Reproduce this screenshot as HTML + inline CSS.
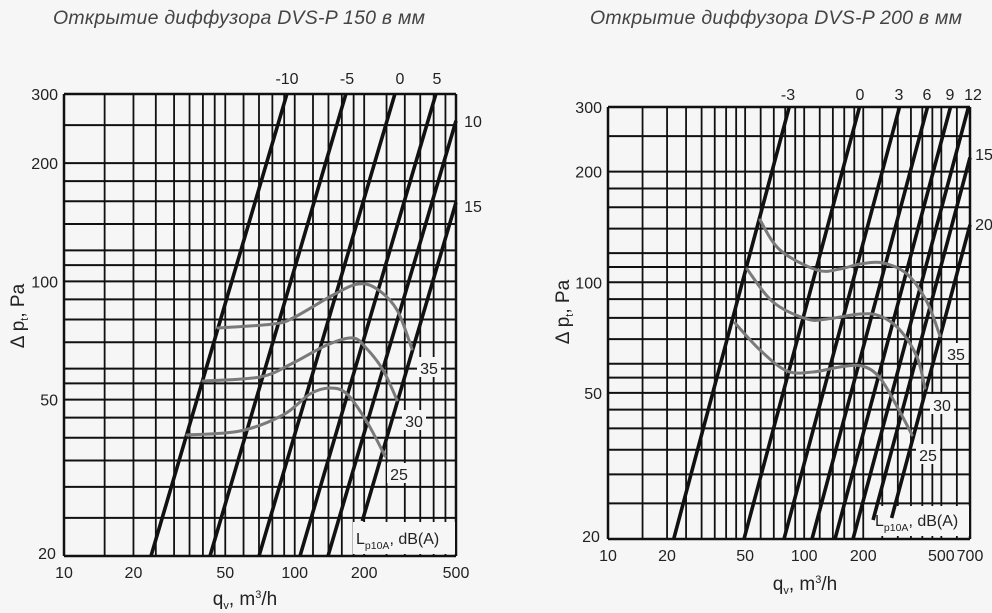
<!DOCTYPE html>
<html><head><meta charset="utf-8"><style>
html,body{margin:0;padding:0;background:#f6f6f6;}
svg{display:block;}
text{font-family:"Liberation Sans",Arial,sans-serif;fill:#222;}
.t{font-style:italic;fill:#444;font-size:19.5px;}
</style></head><body>
<svg id="s" width="992" height="613" viewBox="0 0 992 613" xmlns="http://www.w3.org/2000/svg">
<rect width="992" height="613" fill="#f6f6f6"/>
<text class="t" x="239" y="24" text-anchor="middle" textLength="372">Открытие диффузора DVS-P 150 в мм</text>
<text class="t" x="776" y="24" text-anchor="middle" textLength="372">Открытие диффузора DVS-P 200 в мм</text>
</svg>
<script>
var S=document.getElementById('s'),NS='http://www.w3.org/2000/svg';
function el(n,a,t){var e=document.createElementNS(NS,n);for(var k in a)e.setAttribute(k,a[k]);if(t!==undefined)e.textContent=t;S.appendChild(e);return e;}
function L(x1,y1,x2,y2,w,c){el('line',{x1:x1,y1:y1,x2:x2,y2:y2,stroke:c||'#111','stroke-width':w});}
function T(x,y,s,sz,anc){return el('text',{x:x,y:y,'font-size':sz||16,'text-anchor':anc||'middle'},s);}
function smooth(p){var d='M'+p[0][0]+','+p[0][1];for(var i=0;i<p.length-1;i++){var p0=p[i-1]||p[i],p1=p[i],p2=p[i+1],p3=p[i+2]||p2;
 var c1x=p1[0]+(p2[0]-p0[0])/6,c1y=p1[1]+(p2[1]-p0[1])/6,c2x=p2[0]-(p3[0]-p1[0])/6,c2y=p2[1]-(p3[1]-p1[1])/6;
 d+=' C'+c1x+','+c1y+' '+c2x+','+c2y+' '+p2[0]+','+p2[1];}return d;}
var hv=[300,250,200,180,160,140,120,110,100,90,80,70,60,55,50,45,40,35,30,25,20];
function chart(c){
 var lg=Math.log10;
 function X(q){return c.x0+(c.x1-c.x0)*lg(q/10)/lg(c.qmax/10);}
 function Y(v){return c.y1-(c.y1-c.y0)*lg(v/20)/lg(15);}
 c.vv.forEach(function(q){var x=X(q);L(x,c.y0,x,c.y1,1.8);});
 hv.forEach(function(v){var y=Y(v);L(c.x0,y,c.x1,y,2);});
 L(c.x0,c.y0,c.x0,c.y1,2.5);L(c.x1,c.y0,c.x1,c.y1,2.5);
 el('rect',{x:c.lg[0],y:c.lg[1],width:c.lg[2],height:c.lg[3],fill:'#f6f6f6'});
 var lt=el('text',{x:c.lg[0]+3,y:c.lg[1]+c.lg[3]-10,'font-size':16,'text-anchor':'start'});
 lt.innerHTML='L<tspan font-size="10.5" dy="5">p10A</tspan><tspan dy="-5">, dB(A)</tspan>';
 L(c.x0,c.y1,c.x1,c.y1,2.5);L(c.x0,c.y0,c.x1,c.y0,2.5);
 var k=c.k;
 c.diag.forEach(function(d){var xb=d[0],ys=d[1]||c.y1;var xs=xb+(c.y1-ys)/k;var xe=xb+(c.y1-c.y0)/k,ye=c.y0;if(xe>c.x1){xe=c.x1;ye=c.y1-(c.x1-xb)*k;}L(xs,ys,xe,ye,3.6);});
 c.curves.forEach(function(p){el('path',{d:smooth(p),fill:'none',stroke:'#7a7a7a','stroke-width':3,'stroke-linejoin':'round','stroke-linecap':'round'});});
 c.cl.forEach(function(a){el('rect',{x:a[0]-12,y:a[1]-11,width:24,height:20,fill:'#f6f6f6'});var t=T(a[0],a[1]+6,a[2],16);t.setAttribute('fill','#777');});
 c.yl.forEach(function(a){T(c.x0-6,Y(a)+6,String(a),16,'end');});
 T(c.x0-17,c.y1+3,'20',16);
 c.xl.forEach(function(a){T(X(a),c.y1+22,String(a),16);});
 c.tl.forEach(function(a){T(a[0],a[1],a[2],16);});
 var yt=el('text',{transform:'translate('+c.ytx+','+c.yty+') rotate(-90)','font-size':19,'text-anchor':'middle'});
 yt.innerHTML='Δ p<tspan font-size="11" dy="4">t</tspan><tspan dy="-4">, Pa</tspan>';
 var xt=el('text',{x:c.xtx,y:c.xty,'font-size':19,'text-anchor':'middle'});
 xt.innerHTML='q<tspan font-size="11" dy="4">v</tspan><tspan dy="-4">, m</tspan><tspan font-size="11" dy="-7">3</tspan><tspan dy="7">/h</tspan>';
}
var vv=[15,20,25,30,35,40,45,50,60,70,80,90,100,120,140,160,180,200,250,300,350,400,450,500];
chart({x0:64,x1:456,y0:94,y1:556,qmax:500,k:3.40,vv:vv,
 lg:[353,522,102,32],
 diag:[[151],[210],[259],[300],[328],[352,521]],
 curves:[
  [[218,328],[273,324],[293,318],[333,295],[358,284],[377,289],[397,310],[412,349]],
  [[203,381],[260,377],[293,363],[327,345],[353,338],[367,349],[383,370],[397,400]],
  [[187,435],[240,431],[283,415],[310,394],[330,388],[347,394],[367,422],[385,456]]],
 cl:[[429,368,'35'],[414,421,'30'],[399,474,'25']],
 yl:[300,200,100,50],xl:[10,20,50,100,200,500],
 tl:[[287,84,'-10'],[347,84,'-5'],[400,84,'0'],[437,84,'5'],[473,127,'10'],[473,212,'15']],
 ytx:24,yty:316,xtx:245,xty:605});
chart({x0:608,x1:970,y0:107,y1:539,qmax:700,k:3.74,vv:vv.concat([600,700]),
 lg:[872,506,97,30],
 diag:[[673.7],[744],[784],[812],[835],[853],[868,520],[886,518]],
 curves:[
  [[760,220],[780,250],[817,270],[840,269],[860,264],[883,263],[907,274],[927,302],[940,336]],
  [[747,269],[773,302],[807,319],[827,319],[860,314],[880,316],[900,330],[917,357],[925,388]],
  [[735,323],[760,350],[787,371],[813,372],[840,367],[862,366],[880,378],[900,412],[912,435]]],
 cl:[[956,354,'35'],[942,405,'30'],[928,455,'25']],
 yl:[300,200,100,50],xl:[10,20,50,100,200,500,700],
 tl:[[788,100,'-3'],[860,100,'0'],[899,100,'3'],[927,100,'6'],[950,100,'9'],[973,100,'12'],[984,160,'15'],[984,230,'20']],
 ytx:569,yty:312,xtx:805,xty:590});
</script>
</body></html>
